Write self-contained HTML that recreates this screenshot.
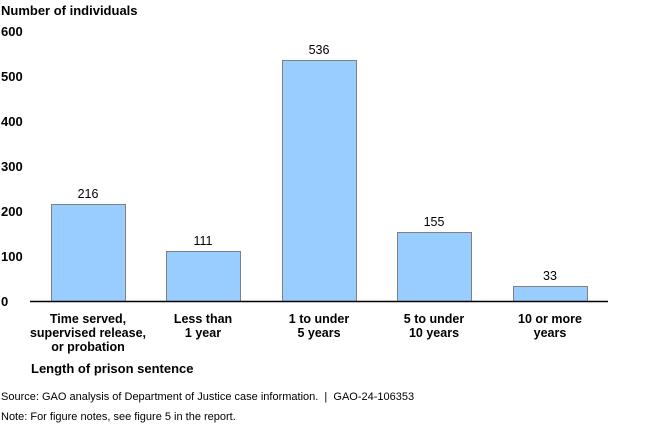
<!DOCTYPE html>
<html><head><meta charset="utf-8"><style>
body{margin:0;background:#fff;}
svg{display:block;font-family:"Liberation Sans",Arial,sans-serif;}
.b{font-weight:bold;font-size:13px;fill:#000;}
.v{font-size:12.5px;fill:#000;text-anchor:middle;}
.c{font-weight:bold;font-size:12.5px;fill:#000;text-anchor:middle;}
.s{font-size:11px;fill:#000;white-space:pre;}
</style></head><body>
<svg width="650" height="425" viewBox="0 0 650 425">
<text class="b" x="1" y="15">Number of individuals</text>
<g class="b">
<text x="1" y="36">600</text>
<text x="1" y="81">500</text>
<text x="1" y="126">400</text>
<text x="1" y="171">300</text>
<text x="1" y="216">200</text>
<text x="1" y="261">100</text>
<text x="1" y="306">0</text>
</g>
<g fill="#99ccff" stroke="#808080" stroke-width="1">
<rect x="51.5" y="204.5" width="74" height="97"/>
<rect x="166.5" y="251.5" width="74" height="50"/>
<rect x="282.5" y="60.5" width="74" height="241"/>
<rect x="397.5" y="232.5" width="74" height="69"/>
<rect x="513.5" y="286.5" width="74" height="15"/>
</g>
<line x1="30" y1="301.5" x2="608" y2="301.5" stroke="#000" stroke-width="1.5"/>
<text class="v" x="88" y="198">216</text>
<text class="v" x="203" y="245">111</text>
<text class="v" x="319" y="54">536</text>
<text class="v" x="434" y="226">155</text>
<text class="v" x="550" y="280">33</text>
<g class="c">
<text x="88" y="323">Time served,</text><text x="88" y="337">supervised release,</text><text x="88" y="351">or probation</text>
<text x="203" y="323">Less than</text><text x="203" y="337">1 year</text>
<text x="319" y="323">1 to under</text><text x="319" y="337">5 years</text>
<text x="434" y="323">5 to under</text><text x="434" y="337">10 years</text>
<text x="550" y="323">10 or more</text><text x="550" y="337">years</text>
</g>
<text class="b" x="31" y="373">Length of prison sentence</text>
<text class="s" x="1" y="400" xml:space="preserve">Source: GAO analysis of Department of Justice case information.  |  GAO-24-106353</text>
<text class="s" x="1" y="420">Note: For figure notes, see figure 5 in the report.</text>
</svg>
</body></html>
